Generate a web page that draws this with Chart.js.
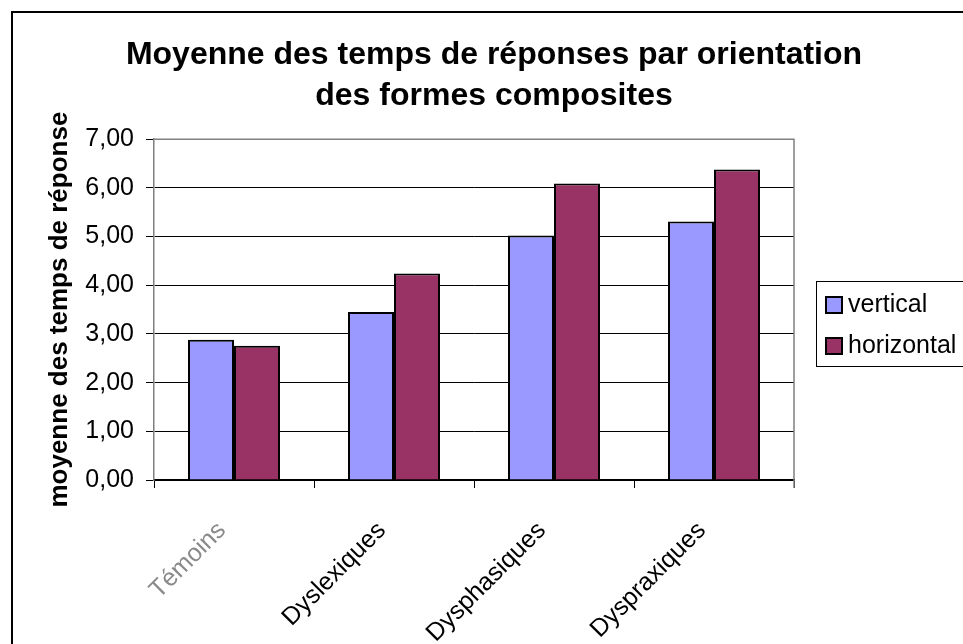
<!DOCTYPE html>
<html>
<head>
<meta charset="utf-8">
<script src="https://cdn.jsdelivr.net/npm/chart.js"></script>
<style>
  body { margin: 0; background: #fff; }
</style>
</head>
<body>
<canvas id="myChart" width="963" height="644"></canvas>
<script>
const categories = ['Témoins', 'Dyslexiques', 'Dysphasiques', 'Dyspraxiques'];
const verticalVals = [2.88, 3.45, 5.02, 5.31];
const horizontalVals = [2.76, 4.24, 6.09, 6.38];
const titleLines = ['Moyenne des temps de réponses par orientation', 'des formes composites'];
const yTitle = 'moyenne des temps de réponse';

const FONT = 'Arial, "Liberation Sans", sans-serif';

// plot box, outer frame and a boxed legend on the right
const frame = {
    id: 'frame',
    beforeDatasetsDraw(chart) {
        const a = chart.chartArea, ctx = chart.ctx;
        ctx.save();
        ctx.strokeStyle = '#808080';
        ctx.lineWidth = 1.5;
        ctx.beginPath();
        ctx.moveTo(a.left, a.top);
        ctx.lineTo(a.right, a.top);
        ctx.lineTo(a.right, a.bottom + 8);
        ctx.stroke();
        ctx.restore();
    },
    afterDraw(chart) {
        const ctx = chart.ctx, a = chart.chartArea;
        ctx.save();
        // legend
        const bx = a.right + 22, by = 281;
        ctx.strokeStyle = '#000';
        ctx.lineWidth = 1;
        ctx.strokeRect(bx + 0.5, by + 0.5, 300, 85);
        ctx.font = '25px ' + FONT;
        ctx.textBaseline = 'middle';
        chart.data.datasets.forEach((ds, i) => {
            const y = by + 24 + i * 41;
            ctx.fillStyle = ds.backgroundColor;
            ctx.fillRect(bx + 10, y - 8, 16, 16);
            ctx.lineWidth = 2;
            ctx.strokeRect(bx + 10, y - 8, 16, 16);
            ctx.fillStyle = '#000';
            ctx.fillText(ds.label, bx + 32, y);
        });
        // outer frame (its right and bottom sides fall outside the picture)
        ctx.lineWidth = 2;
        ctx.strokeRect(12, 12, 1000, 1000);
        ctx.restore();
    }
};

new Chart('myChart', {
    type: 'bar',
    data: {
        labels: categories,
        datasets: [{
            label: 'vertical',
            data: verticalVals,
            backgroundColor: '#9999FF',
            borderColor: '#000',
            borderWidth: 2,
            categoryPercentage: 0.575,
            barPercentage: 1
        }, {
            label: 'horizontal',
            data: horizontalVals,
            backgroundColor: '#993366',
            borderColor: '#000',
            borderWidth: 2,
            categoryPercentage: 0.575,
            barPercentage: 1
        }]
    },
    options: {
        responsive: false,
        animation: false,
        layout: { padding: { top: 34, right: 0, bottom: 0, left: 25 } },
        plugins: {
            title: {
                display: true,
                text: titleLines,
                color: '#000',
                font: { family: FONT, size: 32, weight: 'bold', lineHeight: 1.3 },
                padding: { top: 0, bottom: 22 }
            },
            legend: { display: false },
            tooltip: { enabled: false }
        },
        scales: {
            x: {
                // leave room on the right for the legend box
                afterFit: (s) => { s.height = 164; s.paddingRight = 169; },
                grid: { drawOnChartArea: false, drawTicks: true, tickLength: 8, color: '#000', offset: true },
                border: { color: '#000', width: 1.5 },
                ticks: {
                    minRotation: 45,
                    maxRotation: 45,
                    padding: 28,
                    labelOffset: -12,
                    color: (c) => c.index === 0 ? '#8a8a8a' : '#000',
                    font: { family: FONT, size: 25 }
                }
            },
            y: {
                min: 0,
                max: 7,
                afterFit: (s) => { s.width = 129; },
                grid: { color: '#000', tickLength: 8 },
                border: { color: '#808080', width: 1.5 },
                ticks: {
                    stepSize: 1,
                    color: '#000',
                    padding: 12,
                    font: { family: FONT, size: 25 },
                    callback: (v) => v.toFixed(2).replace('.', ',')
                },
                title: {
                    display: true,
                    text: yTitle,
                    color: '#000',
                    font: { family: FONT, size: 26, weight: 'bold' },
                    padding: { top: 19, bottom: 0 }
                }
            }
        }
    },
    plugins: [frame]
});
</script>
</body>
</html>
